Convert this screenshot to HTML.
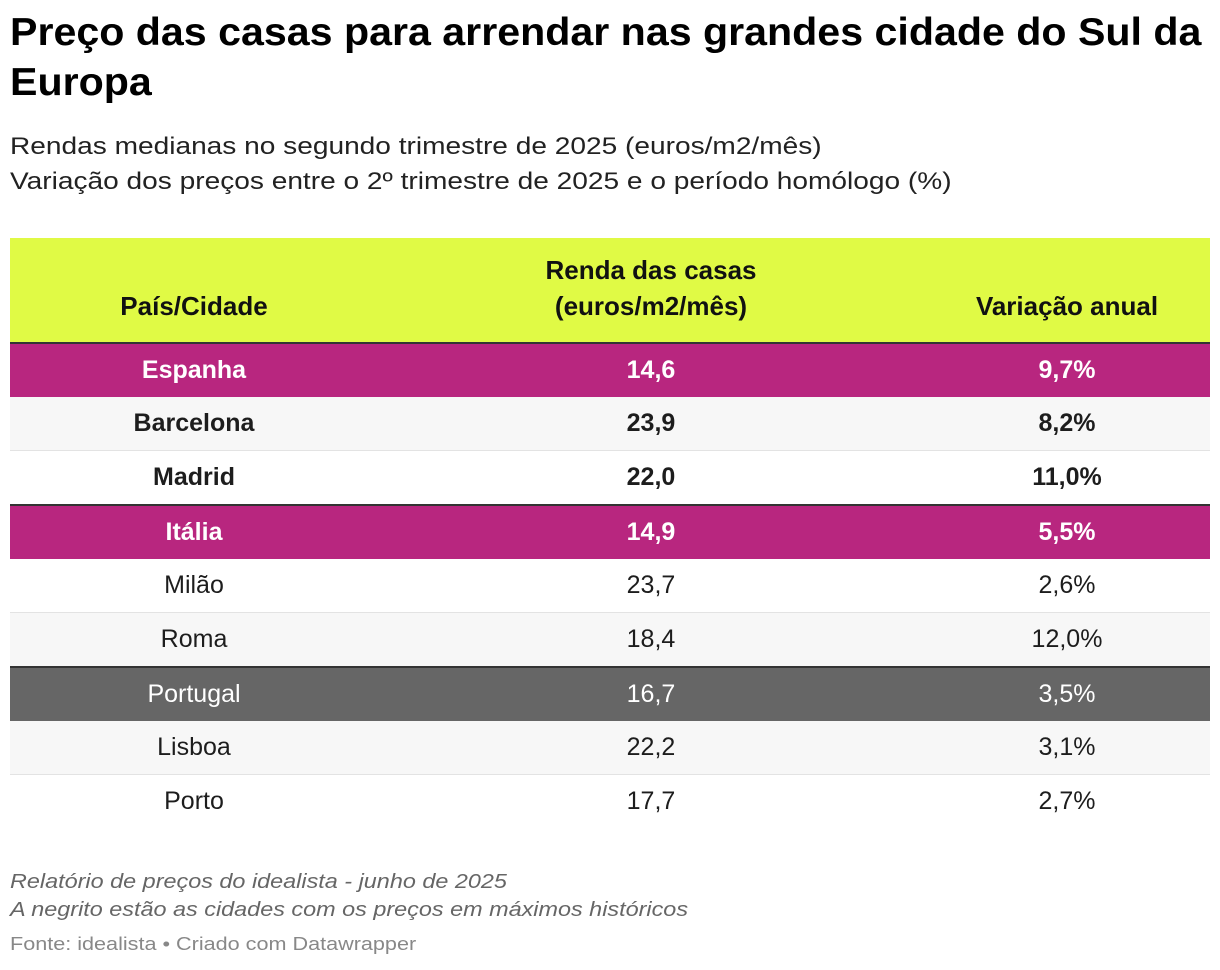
<!DOCTYPE html>
<html><head><meta charset="utf-8">
<style>
body{margin:0;width:1220px;height:970px;background:#fff;font-family:"Liberation Sans",Arial,sans-serif;color:#1d1d1d;position:relative;overflow:hidden}
h1{position:absolute;left:10px;top:8px;margin:0;font-size:39px;line-height:50px;font-weight:bold;white-space:nowrap;color:#000;transform:scaleX(1.055);transform-origin:left top}
.sub{position:absolute;left:10px;top:129px;font-size:24px;line-height:35px;color:#222;white-space:nowrap;transform:scaleX(1.17);transform-origin:left top}
table{position:absolute;left:10px;top:238px;width:1200px;border-collapse:collapse;font-size:25px}
th{background:#e0fa45;font-weight:bold;height:86px;vertical-align:bottom;padding:0 0 18px 0;line-height:36px;border-bottom:2px solid #333;color:#111;font-size:26px}
td{height:53px;text-align:center;padding:0;border-bottom:1px solid #e3e3e3}
.c1{width:368px}.c2{width:546px}.c3{width:286px}
.mag td{background:#b8267f;color:#fff;font-weight:bold;border-bottom:none}
.grey td{background:#666;color:#fff;border-bottom:none}
.alt td{background:#f7f7f7}
.b td{font-weight:bold}
.top td{border-top:2px solid #333}
.notes{position:absolute;left:10px;top:868px;font-size:20px;line-height:28px;font-style:italic;color:#666;white-space:nowrap;transform:scaleX(1.17);transform-origin:left top}
.src{position:absolute;left:10px;top:934px;font-size:18px;color:#888;white-space:nowrap;transform:scaleX(1.2);transform-origin:left top}
</style></head><body>
<h1>Preço das casas para arrendar nas grandes cidade do Sul da<br>Europa</h1>
<div class="sub">Rendas medianas no segundo trimestre de 2025 (euros/m2/mês)<br>Variação dos preços entre o 2º trimestre de 2025 e o período homólogo (%)</div>
<table>
<tr><th class="c1">País/Cidade</th><th class="c2">Renda das casas<br>(euros/m2/mês)</th><th class="c3">Variação anual</th></tr>
<tr class="mag"><td>Espanha</td><td>14,6</td><td>9,7%</td></tr>
<tr class="alt b"><td>Barcelona</td><td>23,9</td><td>8,2%</td></tr>
<tr class="b"><td>Madrid</td><td>22,0</td><td>11,0%</td></tr>
<tr class="mag top"><td>Itália</td><td>14,9</td><td>5,5%</td></tr>
<tr><td>Milão</td><td>23,7</td><td>2,6%</td></tr>
<tr class="alt"><td>Roma</td><td>18,4</td><td>12,0%</td></tr>
<tr class="grey top"><td>Portugal</td><td>16,7</td><td>3,5%</td></tr>
<tr class="alt"><td>Lisboa</td><td>22,2</td><td>3,1%</td></tr>
<tr><td style="border-bottom:none">Porto</td><td style="border-bottom:none">17,7</td><td style="border-bottom:none">2,7%</td></tr>
</table>
<div class="notes">Relatório de preços do idealista - junho de 2025<br>A negrito estão as cidades com os preços em máximos históricos</div>
<div class="src">Fonte: idealista • Criado com Datawrapper</div>
</body></html>
